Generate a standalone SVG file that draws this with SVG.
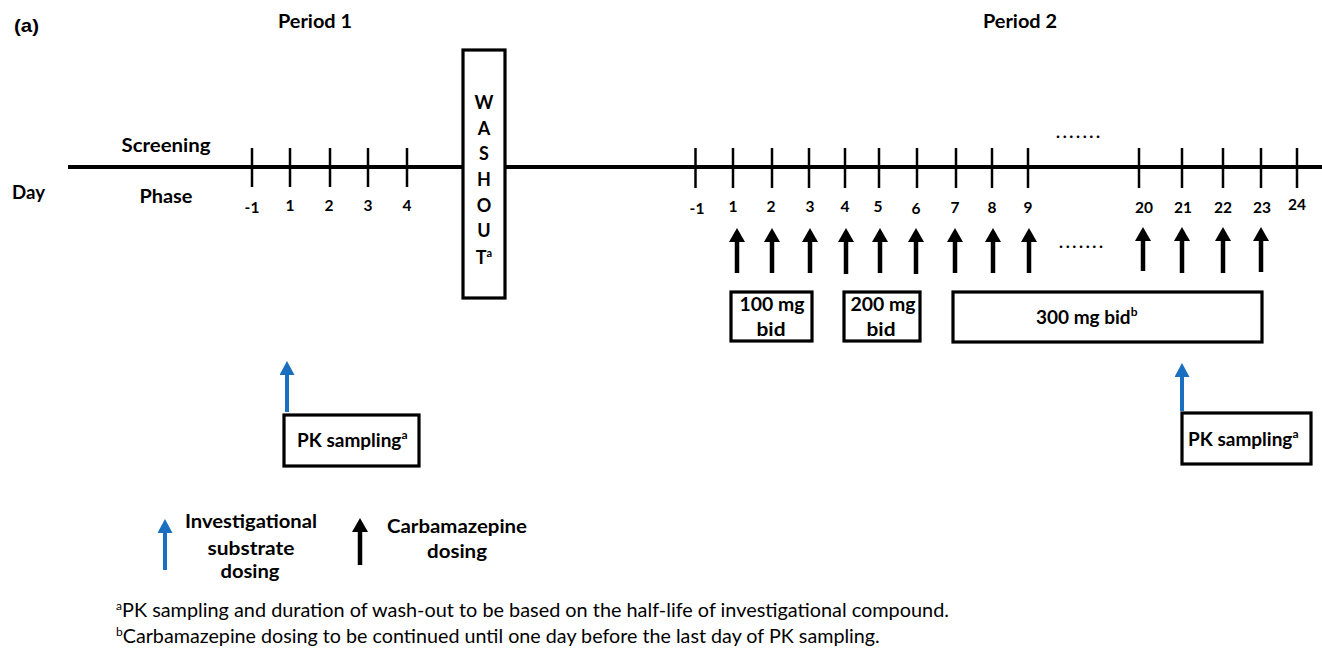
<svg xmlns="http://www.w3.org/2000/svg" width="1322" height="648" viewBox="0 0 1322 648">
<style>
text{font-family:Lato,"Open Sans","Liberation Sans",sans-serif;fill:#000}
.b{font-weight:bold;font-size:19px}
.n{font-weight:bold;font-size:15.5px;text-anchor:middle}
.c{text-anchor:middle}
.w{font-weight:bold;font-size:18px;text-anchor:middle}
.fn{font-size:19px}
.tag{font-family:"Liberation Sans",Arial,sans-serif;font-weight:bold;font-size:19px}
.tick{stroke:#000;stroke-width:2.5}
.box{fill:#fff;stroke:#000;stroke-width:3.2}
.arr{stroke:#000;stroke-width:4.5;marker-end:url(#hb)}
.arrb{stroke:#1b6fc0;stroke-width:4;marker-end:url(#hbl)}
.dots{font-weight:bold;font-size:17px}
</style>
<defs>
<marker id="hb" markerUnits="userSpaceOnUse" markerWidth="14" markerHeight="16" refX="1" refY="8" orient="auto" viewBox="0 0 14 16">
<path d="M0,0 L14,8 L0,16 z" fill="#000"/>
</marker>
<marker id="hbl" markerUnits="userSpaceOnUse" markerWidth="14" markerHeight="15" refX="1" refY="7.5" orient="auto" viewBox="0 0 14 15">
<path d="M0,0 L14,7.5 L0,15 z" fill="#1b6fc0"/>
</marker>
</defs>
<rect width="1322" height="648" fill="#fff"/>

<g id="labels">
<text x="14" y="32" class="tag" textLength="25" lengthAdjust="spacingAndGlyphs">(a)</text>
<text x="315" y="28" class="b c" textLength="74" lengthAdjust="spacingAndGlyphs">Period 1</text>
<text x="1020" y="28" class="b c" textLength="74" lengthAdjust="spacingAndGlyphs">Period 2</text>
<text x="166" y="152" class="b c" textLength="89" lengthAdjust="spacingAndGlyphs">Screening</text>
<text x="166" y="203" class="b c" textLength="53" lengthAdjust="spacingAndGlyphs">Phase</text>
<text x="12" y="199" class="b" textLength="33" lengthAdjust="spacingAndGlyphs">Day</text>
</g>

<g id="connectors">
<line x1="68" y1="167" x2="1322" y2="167" stroke="#000" stroke-width="4"/>
<g id="ticks1">
<line class="tick" x1="252" y1="148" x2="252" y2="187"/>
<line class="tick" x1="290" y1="148" x2="290" y2="187"/>
<line class="tick" x1="330" y1="148" x2="330" y2="187"/>
<line class="tick" x1="368" y1="148" x2="368" y2="187"/>
<line class="tick" x1="407" y1="148" x2="407" y2="187"/>
</g>
<g id="ticks2">
<line class="tick" x1="695.5" y1="148" x2="695.5" y2="188"/>
<line class="tick" x1="733" y1="148" x2="733" y2="188"/>
<line class="tick" x1="772" y1="148" x2="772" y2="188"/>
<line class="tick" x1="809" y1="148" x2="809" y2="188"/>
<line class="tick" x1="845" y1="148" x2="845" y2="188"/>
<line class="tick" x1="879" y1="148" x2="879" y2="188"/>
<line class="tick" x1="917" y1="148" x2="917" y2="188"/>
<line class="tick" x1="956" y1="148" x2="956" y2="188"/>
<line class="tick" x1="992" y1="148" x2="992" y2="188"/>
<line class="tick" x1="1028" y1="148" x2="1028" y2="188"/>
<line class="tick" x1="1139" y1="148" x2="1139" y2="188"/>
<line class="tick" x1="1182" y1="148" x2="1182" y2="188"/>
<line class="tick" x1="1223" y1="148" x2="1223" y2="188"/>
<line class="tick" x1="1261" y1="148" x2="1261" y2="188"/>
<line class="tick" x1="1297" y1="148" x2="1297" y2="188"/>
</g>
<g id="dosing-arrows">
<line class="arr" x1="737" y1="273" x2="737" y2="241"/>
<line class="arr" x1="772" y1="273" x2="772" y2="241"/>
<line class="arr" x1="810" y1="273" x2="810" y2="241"/>
<line class="arr" x1="846" y1="274" x2="846" y2="241"/>
<line class="arr" x1="880" y1="273" x2="880" y2="241"/>
<line class="arr" x1="916" y1="274" x2="916" y2="241"/>
<line class="arr" x1="955" y1="273" x2="955" y2="241"/>
<line class="arr" x1="993" y1="273" x2="993" y2="241"/>
<line class="arr" x1="1029" y1="273" x2="1029" y2="241"/>
<line class="arr" x1="1143" y1="271" x2="1143" y2="240"/>
<line class="arr" x1="1182" y1="273" x2="1182" y2="240"/>
<line class="arr" x1="1223" y1="273" x2="1223" y2="240"/>
<line class="arr" x1="1261" y1="272" x2="1261" y2="240"/>
</g>
<line class="arrb" x1="287" y1="412" x2="287" y2="374"/>
<line class="arrb" x1="1182" y1="411" x2="1182" y2="376"/>
</g>

<g id="ticklabels">
<text class="n" x="252" y="213">-1</text>
<text class="n" x="290" y="211">1</text>
<text class="n" x="329" y="211">2</text>
<text class="n" x="368" y="211">3</text>
<text class="n" x="407" y="211">4</text>
<text class="n" x="697" y="214">-1</text>
<text class="n" x="733" y="212">1</text>
<text class="n" x="771" y="212">2</text>
<text class="n" x="810" y="212">3</text>
<text class="n" x="845" y="212">4</text>
<text class="n" x="878" y="212">5</text>
<text class="n" x="916" y="214">6</text>
<text class="n" x="955" y="213">7</text>
<text class="n" x="992" y="213">8</text>
<text class="n" x="1028" y="213">9</text>
<text class="n" x="1144" y="213">20</text>
<text class="n" x="1183" y="213">21</text>
<text class="n" x="1223" y="213">22</text>
<text class="n" x="1262" y="213">23</text>
<text class="n" x="1297" y="210">24</text>
<text class="dots" x="1056" y="138" textLength="44" lengthAdjust="spacing">.......</text>
<text class="dots" x="1059" y="248" textLength="44" lengthAdjust="spacing">.......</text>
</g>

<g id="washout">
<rect class="box" x="463" y="50" width="42" height="248" stroke-width="3.5"/>
<text class="w" x="484" y="109">W</text>
<text class="w" x="484" y="135">A</text>
<text class="w" x="484" y="160">S</text>
<text class="w" x="484" y="186">H</text>
<text class="w" x="484" y="212">O</text>
<text class="w" x="484" y="237">U</text>
<text class="w" x="484" y="264">T<tspan font-size="11" dy="-7">a</tspan></text>
</g>

<g id="dose100">
<rect class="box" x="731" y="292" width="81" height="49"/>
<text class="b c" x="772" y="311" textLength="65" lengthAdjust="spacingAndGlyphs">100 mg</text>
<text class="b c" x="771" y="336" textLength="29" lengthAdjust="spacingAndGlyphs">bid</text>
</g>
<g id="dose200">
<rect class="box" x="844" y="292" width="76" height="49"/>
<text class="b c" x="883" y="311" textLength="65" lengthAdjust="spacingAndGlyphs">200 mg</text>
<text class="b c" x="881" y="336" textLength="29" lengthAdjust="spacingAndGlyphs">bid</text>
</g>
<g id="dose300">
<rect class="box" x="953" y="292" width="309" height="50"/>
<text class="b" x="1036" y="324">300 mg bid<tspan font-size="12" dy="-8">b</tspan></text>
</g>

<g id="pk1">
<rect class="box" x="284" y="415" width="135" height="51"/>
<text class="b" x="297" y="447">PK sampling<tspan font-size="12" dy="-8">a</tspan></text>
</g>
<g id="pk2">
<rect class="box" x="1182" y="413" width="129" height="51"/>
<text class="b" x="1188" y="446">PK sampling<tspan font-size="12" dy="-8">a</tspan></text>
</g>

<g id="legend">
<line class="arrb" x1="165" y1="570" x2="165" y2="532"/>
<text class="b c" x="251" y="528" textLength="132" lengthAdjust="spacingAndGlyphs">Investigational</text>
<text class="b c" x="251" y="555" textLength="87" lengthAdjust="spacingAndGlyphs">substrate</text>
<text class="b c" x="250" y="578" textLength="59" lengthAdjust="spacingAndGlyphs">dosing</text>
<line class="arr" x1="360" y1="565" x2="360" y2="531"/>
<text class="b c" x="457" y="533" textLength="140" lengthAdjust="spacingAndGlyphs">Carbamazepine</text>
<text class="b c" x="457" y="558" textLength="60" lengthAdjust="spacingAndGlyphs">dosing</text>
</g>

<g id="footnotes">
<text class="fn" x="116" y="617"><tspan font-size="12" dy="-7">a</tspan><tspan dy="7" textLength="827" lengthAdjust="spacingAndGlyphs">PK sampling and duration of wash-out to be based on the half-life of investigational compound.</tspan></text>
<text class="fn" x="116" y="643"><tspan font-size="12" dy="-7">b</tspan><tspan dy="7" textLength="757" lengthAdjust="spacingAndGlyphs">Carbamazepine dosing to be continued until one day before the last day of PK sampling.</tspan></text>
</g>
</svg>
